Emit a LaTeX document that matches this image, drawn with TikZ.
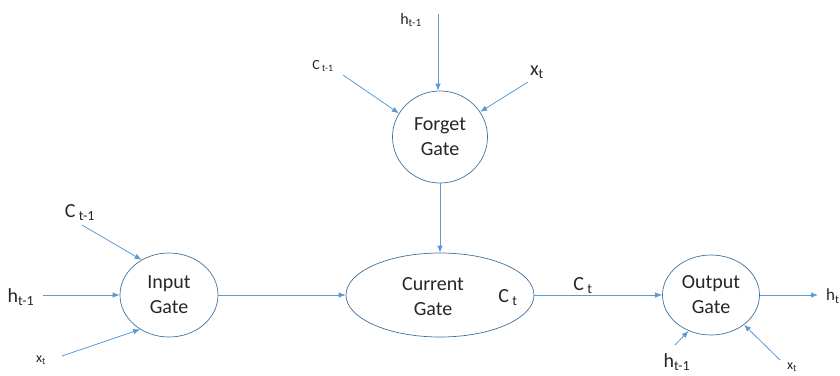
\documentclass[tikz,border=0pt]{standalone}
\usepackage{fontspec}
\setmainfont{Carlito}
\usetikzlibrary{arrows.meta,shapes.geometric}
\definecolor{arr}{HTML}{5B9BD5}
\definecolor{edge}{HTML}{41719C}
\definecolor{txt}{HTML}{262626}
\begin{document}
\begin{tikzpicture}[x=1pt,y=-1pt,
  gate/.style={draw=edge, line width=0.7pt, ellipse, inner sep=0pt, align=center, text=txt, font=\fontsize{20}{25}\selectfont},
  conn/.style={draw=arr, line width=0.8pt, -{Latex[length=7pt,width=5.5pt]}},
  lab/.style={inner sep=0pt, text=txt}]
\useasboundingbox (0,0) rectangle (840,375);
% gates
\node[gate, minimum width=95pt, minimum height=92pt] (forget) at (440,137) {Forget\\Gate};
\node[gate, minimum width=98pt, minimum height=84pt] (input) at (169,295) {Input\\Gate};
\node[gate, minimum width=188pt, minimum height=84pt] (current) at (440,295) {};
\node[lab, align=center, font=\fontsize{20}{25}\selectfont] (curtext) at (433,297) {Current\\Gate};
\node[lab, font=\fontsize{20}{22}\selectfont] (ctin) at (508,298) {C\,\textsubscript{t}};
\node[gate, minimum width=97pt, minimum height=80pt] (output) at (711,295) {Output\\Gate};
% labels
\node[lab, font=\fontsize{16}{18}\selectfont] (hf) at (411,20) {h\textsubscript{t-1}};
\node[lab, font=\fontsize{14}{16}\selectfont] (cf) at (323,66) {C\,\textsubscript{t-1}};
\node[lab, font=\fontsize{20}{22}\selectfont] (xf) at (537,72) {x\textsubscript{t}};
\node[lab, font=\fontsize{20}{22}\selectfont] (ci) at (80,213) {C\,\textsubscript{t-1}};
\node[lab, font=\fontsize{20}{22}\selectfont] (hi) at (21,297) {h\textsubscript{t-1}};
\node[lab, font=\fontsize{14}{16}\selectfont] (xi) at (41,360) {x\textsubscript{t}};
\node[lab, font=\fontsize{20}{22}\selectfont] (cto) at (583,286) {C\,\textsubscript{t}};
\node[lab, font=\fontsize{17}{20}\selectfont, anchor=west] (ho) at (826,296) {h\textsubscript{t}};
\node[lab, font=\fontsize{20}{22}\selectfont] (hb) at (677,362) {h\textsubscript{t-1}};
\node[lab, font=\fontsize{14}{16}\selectfont] (xb) at (792,367) {x\textsubscript{t}};
% free ends
\coordinate (hfs) at (438,14);
\coordinate (cfs) at (343,75);
\coordinate (xfs) at (528,82);
\coordinate (cis) at (82,225);
\coordinate (his) at (43,295);
\coordinate (xis) at (62,356);
\coordinate (hbs) at (675,345);
\coordinate (xbs) at (780,360);
\coordinate (hoe) at (818,295);
% connectors
\draw[conn] (hfs) -- (hfs |- forget.north);
\draw[conn] (cfs) -- (forget.150);
\draw[conn] (xfs) -- (forget.32);
\draw[conn] (forget.south) -- (current.north);
\draw[conn] (cis) -- (input.128);
\draw[conn] (his) -- (input.west);
\draw[conn] (xis) -- (input.230);
\draw[conn] (input.east) -- (current.west);
\draw[conn] (current.east) -- (output.west);
\draw[conn] (output.east) -- (hoe);
\draw[conn] (hbs) -- (output.238);
\draw[conn] (xbs) -- (output.318);
\end{tikzpicture}
\end{document}
